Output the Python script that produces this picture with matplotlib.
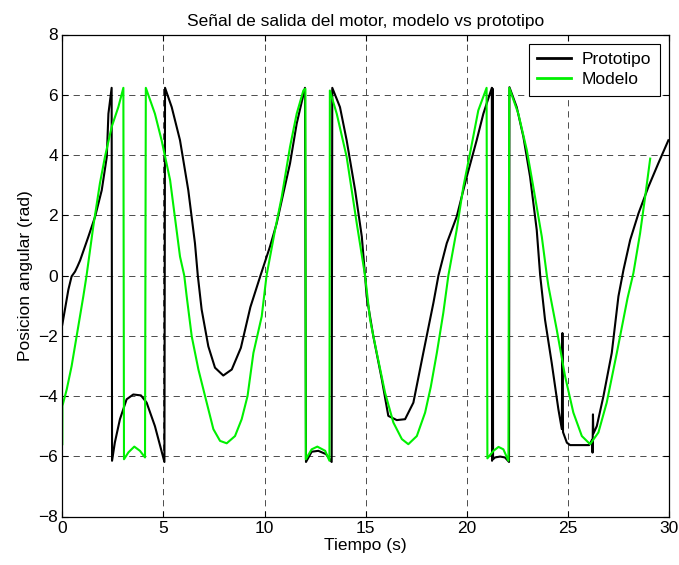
import matplotlib
matplotlib.use("Agg")
import matplotlib.pyplot as plt
import numpy as np

plt.rcParams['font.family'] = ['Liberation Sans', 'DejaVu Sans']
plt.rcParams['lines.scale_dashes'] = False

# Prototipo (measured output)
t_proto = [0.00, 0.13, 0.30, 0.46, 0.63, 0.75, 0.88, 1.29, 1.62, 1.95, 2.20, 2.28, 2.44,
           2.46, 2.60, 2.85, 3.18, 3.51, 3.89, 4.17, 4.58, 5.05,
           5.08, 5.41, 5.82, 6.23, 6.56, 6.70, 6.89, 7.22, 7.55, 7.96, 8.38, 8.83, 9.30,
           9.80, 10.27, 10.60, 10.93, 11.26, 11.59, 12.00,
           12.05, 12.33, 12.66, 13.04, 13.32,
           13.35, 13.73, 14.06, 14.48, 14.81, 14.97, 15.05, 15.38, 15.80, 16.12, 16.54,
           16.95, 17.36, 17.85, 18.35, 18.60, 19.01, 19.50, 20.00, 20.49, 20.82, 21.24,
           21.25, 21.28, 21.30, 21.40, 21.65, 21.89, 22.09,
           22.11, 22.47, 22.80, 23.13, 23.46, 23.63, 23.87, 24.20, 24.53, 24.70,
           24.73, 24.76, 24.95, 25.11, 25.85, 26.05, 26.20, 26.22, 26.24, 26.26, 26.43,
           26.76, 27.17, 27.50, 27.75, 28.08, 28.49, 28.98, 29.47, 29.97]
v_proto = [-1.63, -1.13, -0.47, -0.03, 0.13, 0.30, 0.50, 1.29, 1.95, 2.83, 3.94, 5.37, 6.23,
           -6.15, -5.54, -4.77, -4.11, -3.95, -3.98, -4.22, -5.00, -6.19,
           6.23, 5.59, 4.49, 2.83, 1.07, 0.00, -1.13, -2.35, -3.06, -3.32, -3.12, -2.40, -1.05,
           0.00, 0.96, 1.73, 2.73, 3.72, 5.04, 6.23,
           -6.19, -5.85, -5.82, -5.93, -6.19,
           6.23, 5.59, 4.49, 2.83, 1.29, 0.00, -0.69, -2.02, -3.45, -4.66, -4.80,
           -4.77, -4.22, -2.57, -0.91, 0.00, 1.07, 1.95, 3.28, 4.49, 5.37, 6.23,
           -6.15, 6.20, -6.10, -6.04, -6.01, -6.04, -6.19,
           6.25, 5.59, 4.60, 3.28, 1.51, 0.00, -1.47, -2.90, -4.44, -5.10,
           -1.91, -5.20, -5.55, -5.63, -5.63, -5.63, -5.45, -5.88, -4.61, -5.25, -5.00,
           -4.00, -2.57, -0.69, 0.19, 1.18, 2.06, 2.94, 3.72, 4.49]

# Modelo (simulated output)
t_model = [0.00, 0.005, 0.22, 0.46, 0.79, 1.04, 1.20, 1.53, 1.86, 2.11, 2.44, 2.77, 3.02,
           3.05, 3.27, 3.56, 3.84, 4.09,
           4.13, 4.58, 4.91, 5.33, 5.82, 6.03, 6.15, 6.40, 6.73, 7.14, 7.47, 7.80, 8.13,
           8.54, 8.87, 9.16, 9.45, 9.86, 10.10, 10.52, 10.85, 11.26, 11.59, 11.92, 12.02,
           12.04, 12.33, 12.61, 13.00, 13.21,
           13.23, 13.57, 14.06, 14.56, 14.97, 15.22, 15.55, 15.96, 16.37, 16.79, 17.11,
           17.53, 17.94, 18.22, 18.52, 18.84, 19.09, 19.50, 19.83, 20.16, 20.57, 20.98,
           21.02, 21.32, 21.57, 21.81, 22.06,
           22.10, 22.55, 22.97, 23.29, 23.71, 23.96, 24.04, 24.45, 24.86, 25.27, 25.69,
           26.10, 26.51, 26.92, 27.42, 27.95, 28.24, 28.57, 28.82, 29.07]
v_model = [-5.60, -4.33, -3.78, -3.01, -1.69, -0.69, 0.00, 1.62, 3.06, 3.94, 4.93, 5.59, 6.23,
           -6.10, -5.87, -5.68, -5.82, -6.04,
           6.23, 5.37, 4.49, 3.17, 0.63, 0.00, -0.69, -2.02, -3.12, -4.22, -5.10, -5.49, -5.57,
           -5.33, -4.77, -4.00, -2.57, -1.36, 0.00, 1.51, 2.61, 4.27, 5.37, 6.14, 6.20,
           -6.10, -5.77, -5.68, -5.82, -6.15,
           6.14, 5.37, 3.94, 1.73, 0.00, -1.47, -2.57, -3.89, -4.88, -5.43, -5.60,
           -5.33, -4.55, -3.70, -2.57, -1.24, 0.00, 1.51, 2.94, 4.05, 5.48, 6.23,
           -6.07, -5.82, -5.69, -5.77, -6.15,
           6.23, 5.37, 4.16, 2.94, 1.29, 0.00, -0.36, -1.80, -3.34, -4.55, -5.33,
           -5.60, -5.21, -4.22, -2.57, -0.75, 0.08, 1.40, 2.61, 3.88]

x_ticks = [0, 5, 10, 15, 20, 25, 30]
y_ticks = [-8, -6, -4, -2, 0, 2, 4, 6, 8]

fs = 12.5
fig = plt.figure(figsize=(6.79, 5.65), dpi=100)
ax = fig.add_axes([62.3 / 679, (565 - 516.5) / 565, (669 - 62.3) / 679, (516.5 - 34.5) / 565])

ax.plot(t_proto, v_proto, color='k', lw=1.5, label='Prototipo')
ax.plot(t_model, v_model, color='#00f000', lw=1.5, label='Modelo')

ax.set_xlim(0, 30)
ax.set_ylim(-8, 8)
ax.set_xticks(x_ticks)
ax.set_yticks(y_ticks)
ax.tick_params(direction='in', length=4, width=0.8, top=True, right=True,
               labelsize=fs, pad=3)
for s in ax.spines.values():
    s.set_linewidth(0.9)
ax.grid(True, color='#303030', lw=0.6, linestyle=(0, (4.5, 3.5)))
ax.set_axisbelow(True)

ax.set_title('Señal de salida del motor, modelo vs prototipo', fontsize=fs, pad=6)
ax.set_xlabel('Tiempo (s)', fontsize=fs, labelpad=2)
ax.set_ylabel('Posicion angular (rad)', fontsize=fs, labelpad=4)

leg = ax.legend(loc='upper right', bbox_to_anchor=(0.985, 0.981), fontsize=fs,
                fancybox=False, edgecolor='k', framealpha=1, borderaxespad=0,
                handlelength=1.95, handletextpad=0.6, labelspacing=0.25, borderpad=0.5)
leg.get_frame().set_linewidth(0.8)
for l in leg.get_lines():
    l.set_linewidth(2.0)

fig.savefig('out.png', dpi=100)
